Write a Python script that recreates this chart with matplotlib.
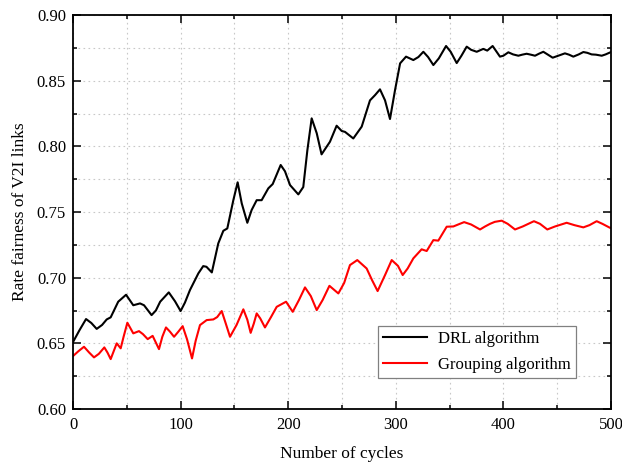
import matplotlib
matplotlib.use('Agg')
import matplotlib.pyplot as plt
from matplotlib.ticker import MultipleLocator

plt.rcParams['font.family'] = ['Liberation Serif', 'DejaVu Serif']

# values
drl_x = [0, 6, 12.1, 17, 22, 27, 31.3, 35, 42, 49.3, 56, 62.3, 66, 73, 77, 81,
         89, 94.8, 100, 104, 108.7, 116.5, 121, 124, 129, 135, 139.7, 143.4,
         149, 153, 156.8, 162, 166, 170.7, 175.3, 181.5, 185.6, 193, 197,
         201.7, 209.4, 214, 217.8, 221.8, 226.5, 231, 238.8, 245, 249.7,
         252.8, 260.5, 268.3, 276, 280.7, 285.3, 290, 294.6, 299.3, 304,
         309.5, 316.3, 321, 325.6, 330, 334.9, 340, 346.7, 351, 356.6, 361,
         365.9, 370, 375.2, 381.3, 385, 390, 396.8, 400, 404.6, 409, 413.9,
         417.5, 421.6, 425.5, 429.4, 433, 437.1, 441, 445.8, 451, 457.2, 461,
         465, 470, 474.3, 478, 482, 486, 491.4, 495, 500]
drl_y = [0.651, 0.660, 0.6685, 0.6655, 0.661, 0.664, 0.6682, 0.6698, 0.6817,
         0.687, 0.679, 0.6804, 0.679, 0.6715, 0.675, 0.6817, 0.6888, 0.682,
         0.6746, 0.681, 0.6906, 0.7033, 0.7088, 0.7083, 0.704, 0.7261, 0.7357,
         0.7375, 0.759, 0.7726, 0.7566, 0.7418, 0.7515, 0.759, 0.759, 0.768,
         0.7713, 0.7858, 0.781, 0.7705, 0.7634, 0.769, 0.797, 0.8213, 0.810,
         0.7939, 0.8035, 0.8157, 0.8117, 0.811, 0.806, 0.815, 0.835, 0.839,
         0.8434, 0.835, 0.8208, 0.8429, 0.8632, 0.8683, 0.8657, 0.868, 0.872,
         0.868, 0.8619, 0.867, 0.8764, 0.872, 0.8634, 0.869, 0.8759, 0.8735,
         0.872, 0.8742, 0.8729, 0.8764, 0.8683, 0.869, 0.8716, 0.870, 0.869,
         0.8698, 0.8705, 0.8698, 0.869, 0.8705, 0.872, 0.870, 0.8675, 0.869,
         0.8708, 0.8698, 0.8683, 0.870, 0.8718, 0.8712, 0.870, 0.8698, 0.869,
         0.870, 0.8718]

grp_x = [0, 5, 10.2, 15, 19.5, 24, 29.1, 32, 35, 40.6, 44.3, 47, 50.5, 56,
         61.3, 65, 69.4, 74, 79.9, 83, 86.4, 90, 93.9, 98, 101.9, 106, 110.6,
         114, 118, 124.2, 130.4, 134, 138.2, 142, 145.9, 152, 158.3, 162,
         165.1, 168, 170.7, 174, 178.4, 184, 189.3, 198, 204.2, 210, 215.6,
         221, 226.5, 232, 238.3, 246.6, 252, 257.4, 264.2, 272.9, 278, 283.1,
         290, 296.2, 302, 306.4, 311, 316.3, 324, 328.7, 334.9, 339.5, 347.3,
         353.5, 358, 363.5, 370, 378.3, 383, 387.6, 392, 398.4, 404, 410.8,
         418, 428.4, 434, 440.8, 448, 458.8, 466, 474.3, 480, 486.7, 492, 499,
         500]
grp_y = [0.6403, 0.644, 0.6474, 0.643, 0.6393, 0.642, 0.6469, 0.643, 0.638,
         0.65, 0.6462, 0.655, 0.6657, 0.6576, 0.6593, 0.657, 0.6532, 0.6557,
         0.6456, 0.655, 0.6621, 0.659, 0.655, 0.659, 0.6631, 0.653, 0.6385,
         0.652, 0.6639, 0.6677, 0.6682, 0.670, 0.6746, 0.665, 0.655, 0.664,
         0.6759, 0.668, 0.658, 0.665, 0.6728, 0.669, 0.6621, 0.670, 0.6778,
         0.6817, 0.674, 0.683, 0.6926, 0.686, 0.6753, 0.683, 0.6938, 0.688,
         0.696, 0.7096, 0.7134, 0.707, 0.698, 0.6898, 0.702, 0.7134, 0.709,
         0.702, 0.707, 0.7147, 0.7216, 0.7203, 0.7286, 0.7282, 0.7388, 0.739,
         0.7405, 0.7423, 0.7405, 0.7367, 0.739, 0.741, 0.7425, 0.7434, 0.741,
         0.7367, 0.739, 0.743, 0.741, 0.7367, 0.739, 0.7418, 0.740, 0.7383,
         0.740, 0.743, 0.741, 0.738, 0.738]

fig = plt.figure(figsize=(6.22, 4.66), dpi=100)
ax = fig.add_axes([0.1174, 0.1223, 0.8649, 0.8455])

ax.plot(drl_x, drl_y, color='black', lw=1.5, solid_joinstyle='round',
        label='DRL algorithm')
ax.plot(grp_x, grp_y, color='red', lw=1.5, solid_joinstyle='round',
        label='Grouping algorithm')

ax.set_xlim(0, 500)
ax.set_ylim(0.60, 0.90)
ax.xaxis.set_major_locator(MultipleLocator(100))
ax.xaxis.set_minor_locator(MultipleLocator(50))
ax.yaxis.set_major_locator(MultipleLocator(0.05))
ax.yaxis.set_minor_locator(MultipleLocator(0.025))
ax.yaxis.set_major_formatter(plt.FormatStrFormatter('%.2f'))

ax.grid(True, which='both', color='#c8c8c8', linestyle=(0, (1.5, 3)), lw=0.8)
ax.set_axisbelow(True)
ax.tick_params(which='both', direction='in', top=True, right=True,
               labelsize=12, width=1.1)
ax.tick_params(axis='x', pad=6)
ax.tick_params(axis='y', pad=5)
ax.tick_params(which='major', length=6)
ax.tick_params(which='minor', length=3)
for sp in ax.spines.values():
    sp.set_linewidth(1.3)

ax.set_xlabel('Number of cycles', fontsize=12.5, labelpad=9)
ax.set_ylabel('Rate fairness of V2I links', fontsize=12.5, labelpad=6)

leg = ax.legend(loc='lower right', bbox_to_anchor=(0.935, 0.079), fontsize=12,
                fancybox=False, edgecolor='#808080', framealpha=1,
                handlelength=2.6, handletextpad=0.7, borderpad=0.3,
                borderaxespad=0, labelspacing=0.6)
leg.get_frame().set_linewidth(0.9)

fig.savefig('out.png', dpi=100)
